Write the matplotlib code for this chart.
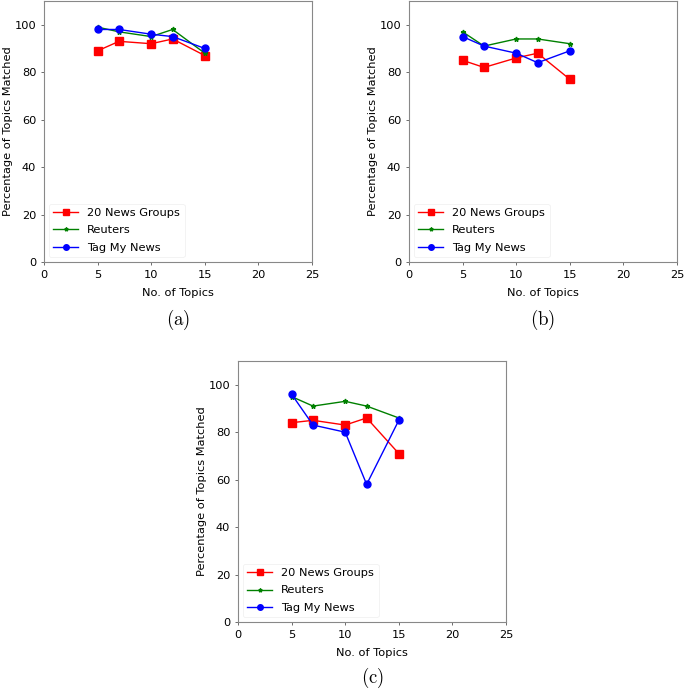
import matplotlib
matplotlib.use("Agg")
import matplotlib.pyplot as plt

topics = [5, 7, 10, 12, 15]
series_names = ["20 News Groups", "Reuters", "Tag My News"]

a_ng = [89, 93, 92, 94, 87]
a_reuters = [99, 97, 95, 98, 88]
a_tmn = [98, 98, 96, 95, 90]

b_ng = [85, 82, 86, 88, 77]
b_reuters = [97, 91, 94, 94, 92]
b_tmn = [95, 91, 88, 84, 89]

c_ng = [84, 85, 83, 86, 71]
c_reuters = [95, 91, 93, 91, 86]
c_tmn = [96, 83, 80, 58, 85]

xticks = [0, 5, 10, 15, 20, 25]
yticks = [0, 20, 40, 60, 80, 100]
captions = ["(a)", "(b)", "(c)"]

plt.rcParams['mathtext.fontset'] = 'cm'
W, H = 685, 690
fig = plt.figure(figsize=(W / 100, H / 100), dpi=100)

def box(x0, y0, x1, y1):
    return [x0 / W, 1 - y1 / H, (x1 - x0) / W, (y1 - y0) / H]

panels = [
    (box(44, 1, 312, 262), (a_ng, a_reuters, a_tmn), (178, 320)),
    (box(409, 1, 677, 262), (b_ng, b_reuters, b_tmn), (543, 320)),
    (box(238, 361, 506, 622), (c_ng, c_reuters, c_tmn), (372, 678)),
]

fs = 8.2
for i, (rect, data, cap) in enumerate(panels):
    ax = fig.add_axes(rect)
    ng, re, tm = data
    ax.plot(topics, ng, color='red', marker='s', markersize=5.5, linewidth=1, label=series_names[0])
    ax.plot(topics, re, color='green', marker='*', markersize=3.5, linewidth=1, label=series_names[1])
    ax.plot(topics, tm, color='blue', marker='o', markersize=5, linewidth=1, label=series_names[2])
    ax.set_xlim(0, 25)
    ax.set_ylim(0, 110)
    ax.set_xticks(xticks)
    ax.set_yticks(yticks)
    ax.tick_params(labelsize=fs, length=2.5, width=0.6, color='#555555', pad=3)
    for s in ax.spines.values():
        s.set_color('#888888')
        s.set_linewidth(0.8)
    ax.set_xlabel("No. of Topics", fontsize=fs, labelpad=6)
    ax.set_ylabel("Percentage of Topics Matched", fontsize=fs, labelpad=1)
    leg = ax.legend(loc='lower left', fontsize=fs, frameon=True, handlelength=2.2,
                    borderaxespad=0.4, labelspacing=0.65, markerscale=0.8)
    leg.get_frame().set_edgecolor('#eeeeee')
    leg.get_frame().set_linewidth(0.6)
    fig.text(cap[0] / W, 1 - cap[1] / H, r'$\mathrm{' + captions[i] + '}$', fontsize=13.5,
             ha='center', va='center')

fig.savefig("out.png", dpi=100)
